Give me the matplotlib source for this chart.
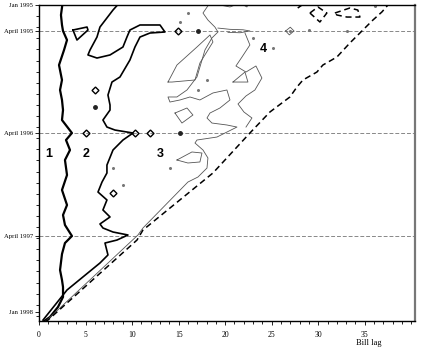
import matplotlib
matplotlib.use("Agg")
import matplotlib.pyplot as plt
from matplotlib.ticker import MultipleLocator

plt.rcParams["font.family"] = "Liberation Serif"

# y axis = months since Jan 1995 (inverted), x axis = bill index
date_ticks = [0, 3, 15, 27, 36]
date_labels = ['Jan 1995', 'April 1995', 'April 1996', 'April 1997', 'Jan 1998']
april_lines = [3, 15, 27]

# level 1 (thickest)
c1_x = [2.58, 2.36, 2.47, 2.58, 3.01, 2.69, 2.15, 2.47, 2.26, 2.47, 2.58, 2.47, 3.54, 2.90,
        3.33, 2.79, 3.01, 2.47, 3.01, 2.58, 2.79, 3.54, 2.79, 2.47, 2.26, 2.47, 2.58, 2.58,
        2.04, 1.18, 0.43]
c1_t = [-0.6, 1.17, 2.34, 3.04, 4.10, 5.27, 7.03, 8.78, 9.95, 11.12, 12.30, 13.47, 14.99, 15.81,
        16.98, 18.15, 19.91, 21.66, 23.42, 24.59, 25.76, 27.05, 27.87, 29.16, 31.03, 32.2, 33.02,
        34.19, 35.36, 36.53, 37.1]

# level 2 (thick)
c2_x = [8.92, 7.95, 6.55, 6.23, 5.48, 5.26, 6.23, 7.63, 9.02, 9.45, 9.77, 10.85, 13.0, 13.53,
        11.92, 10.85, 10.31, 9.77, 8.70, 7.84, 7.41, 7.63, 7.63, 6.87, 7.30, 8.16, 10.10, 9.02,
        7.95, 7.30, 7.30, 6.77, 6.34, 7.30, 6.87, 7.63, 6.55, 6.87, 7.95, 9.56, 8.38, 7.09, 7.41,
        6.55, 3.01, 0.43]
c2_t = [-0.59, 0.59, 2.58, 3.75, 5.27, 5.85, 6.21, 5.85, 4.92, 3.75, 2.93, 2.34, 2.34, 3.16,
        3.28, 3.75, 4.92, 6.44, 8.43, 9.02, 10.54, 11.71, 12.30, 13.47, 14.29, 14.64, 14.99, 15.81,
        16.98, 18.74, 19.67, 20.73, 21.9, 22.83, 24.0, 24.82, 25.64, 26.11, 26.58, 26.93, 27.52,
        27.87, 29.27, 30.21, 33.37, 36.89]

# closed thick loop near April 1995
c2_loop_x = [3.65, 5.16, 5.26, 4.08, 3.65]
c2_loop_t = [2.93, 2.58, 2.93, 4.10, 2.93]

# small thick islands
isl_x = [10.31, 6.02, 5.05, 11.92, 8.0, 14.93]
isl_t = [15.0, 9.95, 15.0, 15.0, 22.0, 3.04]
dot_x = [6.02, 17.08, 15.15]
dot_t = [11.94, 3.04, 15.0]

# tiny thin specks
speck_x = [16.0, 15.15, 22.99, 25.13, 17.08, 18.05, 14.07, 7.95, 9.02, 26.96, 29.0, 33.08, 36.09]
speck_t = [0.94, 1.99, 3.86, 5.04, 9.95, 8.78, 19.09, 19.09, 21.08, 3.04, 2.93, 3.04, 0.1]

# level 3 (thin), long line
c3_x = [18.58, 17.62, 18.15, 18.90, 19.23, 18.58, 17.83, 17.29, 16.97, 15.90, 14.82, 13.86, 14.07,
        15.15, 16.22, 17.29, 18.69, 20.19, 20.52, 19.44, 18.37, 18.05, 18.58, 20.19, 21.27, 19.12,
        16.97, 16.76, 17.62, 18.15, 18.05, 17.08, 16.0, 11.17, 10.63, 0.86, 0.54]
c3_t = [-0.59, 0.94, 1.76, 2.58, 3.16, 3.86, 5.27, 7.26, 8.43, 9.95, 10.77, 10.77, 11.36,
        11.12, 10.77, 11.12, 10.30, 9.95, 11.12, 12.06, 12.65, 13.23, 13.82, 14.05, 14.29, 15.46,
        15.81, 16.16, 16.98, 17.91, 19.09, 20.14, 20.73, 26.11, 26.93, 36.89, 37.13]

# western edge of region 4 (thin)
c3b_x = [22.13, 22.66, 21.81, 21.16, 22.24, 23.31, 23.95, 23.2, 22.24, 21.38, 22.02, 22.88, 22.24]
c3b_t = [3.28, 4.68, 6.09, 7.14, 7.85, 7.14, 8.55, 9.95, 10.65, 11.59, 12.53, 13.23, 14.29]

# thin closed loops
loops3 = [
    ([13.86, 14.82, 16.97, 18.37, 18.69, 17.29, 16.76, 14.29, 13.86],
     [9.02, 7.03, 4.92, 3.51, 4.33, 6.79, 8.78, 9.02, 9.02]),
    ([14.61, 15.90, 16.54, 15.36, 14.61], [12.65, 12.06, 12.88, 13.82, 12.65]),
    ([14.82, 16.43, 17.51, 17.29, 16.0, 14.82], [18.15, 17.21, 17.33, 18.38, 18.5, 18.15]),
    ([20.84, 22.13, 22.45, 20.84], [9.02, 7.85, 9.02, 9.02]),
    ([19.44, 20.52, 21.59, 22.34, 22.66], [0.0, 0.23, -0.23, 0.23, -0.59]),
    ([19.23, 20.52, 21.91, 22.66, 21.6, 20.3], [2.7, 2.85, 2.9, 3.04, 3.25, 3.2]),
    ([26.5, 27.0, 27.4, 26.9, 26.5], [3.04, 2.6, 3.04, 3.5, 3.04]),
]

# level 4 (dashed)
c4_x = [0.64, 0.97, 10.53, 11.17, 18.69, 22.66, 24.81, 26.96, 27.71, 28.36, 29.86, 30.5,
        32.01, 33.4, 34.8, 35.88, 36.84, 37.49]
c4_t = [37.1, 36.89, 27.52, 26.35, 19.67, 14.99, 12.53, 10.77, 9.61, 8.78, 7.85, 7.03,
        6.09, 4.45, 2.93, 1.76, 0.82, 0.0]
loops4 = [
    ([29.11, 29.97, 30.93, 30.18, 29.11], [0.94, 0.23, 0.94, 1.99, 0.94]),
    ([31.79, 33.4, 34.26, 34.48, 33.08, 32.01, 31.79], [0.94, 0.35, 0.59, 1.41, 1.41, 1.17, 0.94]),
    ([27.8, 28.4], [0.35, -0.1]),
]

fig = plt.figure(figsize=(4.21, 3.47), dpi=100)
ax = fig.add_axes([39 / 421, 26 / 347, 376 / 421, 316 / 347])

for t in april_lines:
    ax.axhline(t, color='#888888', linestyle=(0, (4, 2)), linewidth=0.7, zorder=1)

ax.plot(c1_x, c1_t, color='black', linewidth=1.6)
ax.plot(c2_x, c2_t, color='black', linewidth=1.2)
ax.plot(c2_loop_x, c2_loop_t, color='black', linewidth=1.2)
ax.plot(isl_x, isl_t, linestyle='none', marker='D', markersize=3.5, markerfacecolor='none',
        markeredgecolor='black', markeredgewidth=1.0)
ax.plot(dot_x, dot_t, linestyle='none', marker='o', markersize=2.5, color='#222222')
ax.plot(speck_x, speck_t, linestyle='none', marker='o', markersize=1.2, color='#777777')
ax.plot(c3_x, c3_t, color='#555555', linewidth=0.6)
ax.plot(c3b_x, c3b_t, color='#555555', linewidth=0.6)
for lx, lt in loops3:
    ax.plot(lx, lt, color='#555555', linewidth=0.6)
ax.plot(c4_x, c4_t, color='black', linewidth=1.1, linestyle=(0, (4, 2.5)))
for lx, lt in loops4:
    ax.plot(lx, lt, color='black', linewidth=1.1, linestyle=(0, (4, 2.5)))

for txt, x, t in [('1', 1.0, 17.5), ('2', 5.1, 17.5), ('3', 13.0, 17.5), ('4', 24.1, 5.2)]:
    ax.text(x, t, txt, fontsize=9, fontweight='bold', family='Liberation Sans',
            ha='center', va='center')

ax.set_xlim(0, 40.4)
ax.set_ylim(37.0, 0)
ax.set_xticks([0, 5, 10, 15, 20, 25, 30, 35])
ax.xaxis.set_minor_locator(MultipleLocator(1))
ax.set_yticks(date_ticks)
ax.set_yticklabels(date_labels)
ax.yaxis.set_minor_locator(MultipleLocator(1.3))
ax.tick_params(which='both', labelsize=5.5, length=3, width=0.6, direction='out', pad=4)
ax.tick_params(axis='y', which='major', labelsize=4.8, pad=1.5)
ax.tick_params(which='minor', length=2)
for s in ['left', 'bottom', 'top']:
    ax.spines[s].set_linewidth(1.0)
ax.spines['right'].set_linewidth(1.6)
ax.spines['right'].set_color('#777777')

fig.text(0.845, 0.012, 'Bill lag', fontsize=6, va='center')

fig.savefig('out.png', dpi=100)
